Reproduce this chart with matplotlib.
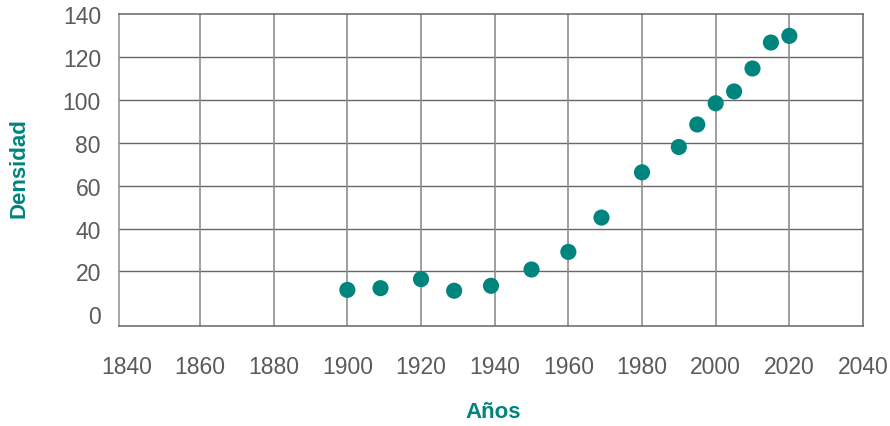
import matplotlib
matplotlib.use("Agg")
import matplotlib.pyplot as plt
from matplotlib import font_manager

years = [1900, 1909, 1920, 1929, 1939, 1950, 1960, 1969, 1980, 1990, 1995, 2000, 2005, 2010, 2015, 2020]
density = [11.4, 12.2, 16.4, 11.0, 13.3, 20.9, 29.1, 45.1, 66.2, 78.0, 88.5, 98.4, 103.9, 114.6, 126.7, 129.8]
x_ticks = [1840, 1860, 1880, 1900, 1920, 1940, 1960, 1980, 2000, 2020, 2040]
y_ticks = [0, 20, 40, 60, 80, 100, 120, 140]
x_label = "Años"
y_label = "Densidad"

teal = "#00847E"
tick_color = "#5a5a5a"
plt.rcParams['font.family'] = ['Liberation Sans', 'DejaVu Sans']

installed = {f.name for f in font_manager.fontManager.ttflist}
label_family = ['Liberation Sans Narrow', 'Liberation Sans'] if 'Liberation Sans Narrow' in installed else ['Liberation Sans']
label_size = 18 if 'Liberation Sans Narrow' in installed else 16

fig = plt.figure(figsize=(8.9, 4.27), dpi=100)
W, H = 890, 427
ax = fig.add_axes([119 / W, (H - 326.7) / H, (863 - 119) / W, (326.7 - 15) / H])

ax.set_xlim(1838, 2040)
ax.set_ylim(-5.3, 140)

for yv in y_ticks[1:-1]:
    ax.axhline(yv, color="#666666", lw=1.0, zorder=1)
for xv in x_ticks[1:-1]:
    ax.axvline(xv, color="#8f8f8f", lw=1.2, zorder=1)

ax.scatter(years, density, s=135, color=teal, edgecolors="none", zorder=3)

for side in ["left", "right", "top", "bottom"]:
    ax.spines[side].set_color("#666666")
    ax.spines[side].set_linewidth(1.1)
ax.spines["left"].set_color("#8f8f8f")

ax.set_xticks(x_ticks)
ax.set_yticks(y_ticks)
ax.tick_params(axis="both", length=0, labelsize=16.5, colors=tick_color)
ax.tick_params(axis="x", pad=21)
ax.tick_params(axis="y", pad=13)

fig.text(493 / W, 1 - 413 / H, x_label, ha="center", va="center",
         fontsize=label_size, fontweight="bold", color=teal, family=label_family)
fig.text(19 / W, 1 - 168 / H, y_label, ha="center", va="center", rotation=90,
         fontsize=label_size, fontweight="bold", color=teal, family=label_family)

fig.savefig("out.png", dpi=100)
